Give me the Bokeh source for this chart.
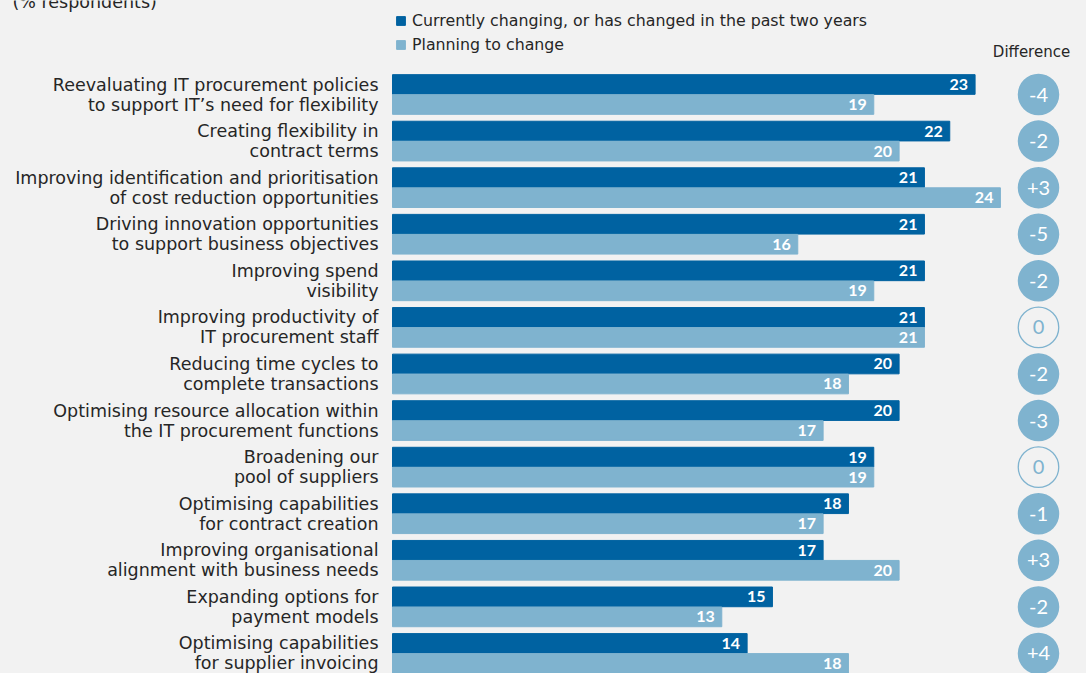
from bokeh.plotting import figure
from bokeh.models import Range1d, ColumnDataSource, Label, Legend, LegendItem
from bokeh.core.properties import value
from bokeh.embed import file_html
from bokeh.resources import INLINE

line1 = ["Reevaluating IT procurement policies", "Creating flexibility in",
         "Improving identification and prioritisation", "Driving innovation opportunities",
         "Improving spend", "Improving productivity of", "Reducing time cycles to",
         "Optimising resource allocation within", "Broadening our", "Optimising capabilities",
         "Improving organisational", "Expanding options for", "Optimising capabilities"]
line2 = ["to support IT\u2019s need for flexibility", "contract terms",
         "of cost reduction opportunities", "to support business objectives",
         "visibility", "IT procurement staff", "complete transactions",
         "the IT procurement functions", "pool of suppliers", "for contract creation",
         "alignment with business needs", "payment models", "for supplier invoicing"]
current = [23, 22, 21, 21, 21, 21, 20, 20, 19, 18, 17, 15, 14]
planning = [19, 20, 24, 16, 19, 21, 18, 17, 19, 17, 20, 13, 18]
difference = ["-4", "-2", "+3", "-5", "-2", "0", "-2", "-3", "0", "-1", "+3", "-2", "+4"]

DARK = "#0062a1"
LIGHT = "#7fb3cf"
BG = "#f2f2f2"
TXT = "#262626"
FONT = "DejaVu Sans"
NUMFONT = "Lato"

W, H = 1086, 673
PX = 25.33         # px per unit
X0 = 392           # px of zero
SP = 46.58         # group spacing px
Y0 = 94            # px of first group centre
BH = 19.7 / SP

n = len(current)
idx = list(range(n))
src = ColumnDataSource(dict(
    yc=[i - 10 / SP for i in idx], yp=[i + 10 / SP for i in idx],
    cur=current, plan=planning,
    curt=[str(v) for v in current], plant=[str(v) for v in planning],
    curx=[v - 7 / PX for v in current], planx=[v - 7 / PX for v in planning],
    l1=line1, l2=line2, g=idx,
    diff=difference,
))

p = figure(width=W, height=H, output_backend="svg", toolbar_location=None,
           x_range=Range1d(-X0 / PX, (W - X0) / PX),
           y_range=Range1d((H - Y0) / SP, -Y0 / SP),
           min_border=0, background_fill_color=BG, border_fill_color=BG,
           outline_line_color=None)
p.axis.visible = False
p.grid.visible = False

r1 = p.hbar(y="yc", left=0, right="cur", height=BH, color=DARK, source=src)
r2 = p.hbar(y="yp", left=0, right="plan", height=BH, color=LIGHT, source=src)

p.text(x="curx", y="yc", text="curt", source=src, text_align="right", text_baseline="middle",
       text_color="white", text_font=value(NUMFONT), text_font_style="bold", text_font_size="16px")
p.text(x="planx", y="yp", text="plant", source=src, text_align="right", text_baseline="middle",
       text_color="white", text_font=value(NUMFONT), text_font_style="bold", text_font_size="16px")

lx = -14 / PX
p.text(x=lx, y="yc", text="l1", source=src, text_align="right", text_baseline="middle",
       text_color=TXT, text_font=value(FONT), text_font_size="17.5px")
p.text(x=lx, y="yp", text="l2", source=src, text_align="right", text_baseline="middle",
       text_color=TXT, text_font=value(FONT), text_font_size="17.5px")

# difference circles
cx = (1038 - X0) / PX
fill_src = ColumnDataSource(dict(
    g=[i for i, d in zip(idx, difference) if d != "0"],
    d=[d for d in difference if d != "0"]))
zero_src = ColumnDataSource(dict(
    g=[i for i, d in zip(idx, difference) if d == "0"],
    d=[d for d in difference if d == "0"]))
p.scatter(x=cx, y="g", size=41.5, marker="circle", fill_color=LIGHT, line_color=None, source=fill_src)
p.scatter(x=cx, y="g", size=40.5, marker="circle", fill_color=None, line_color=LIGHT,
          line_width=1.3, source=zero_src)
p.text(x=cx, y="g", text="d", source=fill_src, text_align="center", text_baseline="middle",
       text_color="white", text_font=value(NUMFONT), text_font_size="20px")
p.text(x=cx, y="g", text="d", source=zero_src, text_align="center", text_baseline="middle",
       text_color=LIGHT, text_font=value(NUMFONT), text_font_size="20px")

p.add_layout(Label(x=(1031 - X0) / PX, y=(51.7 - Y0) / SP, text="Difference",
                   text_align="center", text_baseline="middle", text_font=FONT,
                   text_font_size="15px", text_color=TXT))
p.add_layout(Label(x=(12 - X0) / PX, y=(11 - Y0) / SP, text="(% respondents)",
                   text_align="left", text_baseline="bottom", text_font=FONT,
                   text_font_size="17.5px", text_color=TXT))

legend = Legend(items=[
    LegendItem(label="Currently changing, or has changed in the past two years", renderers=[r1]),
    LegendItem(label="Planning to change", renderers=[r2])],
    location=(395, H - 54), orientation="vertical",
    glyph_width=11, glyph_height=11, label_height=20, label_standoff=6, spacing=4,
    padding=0, margin=0, border_line_color=None, background_fill_alpha=0,
    label_text_font=FONT, label_text_font_size="15.8px", label_text_color=TXT)
p.add_layout(legend, "center")

html = file_html(p, INLINE)
html = html.replace("</head>",
                    "<style>html,body{margin:0;padding:0;background:#f2f2f2;overflow:hidden;}</style></head>", 1)
open("out.html", "w").write(html)
